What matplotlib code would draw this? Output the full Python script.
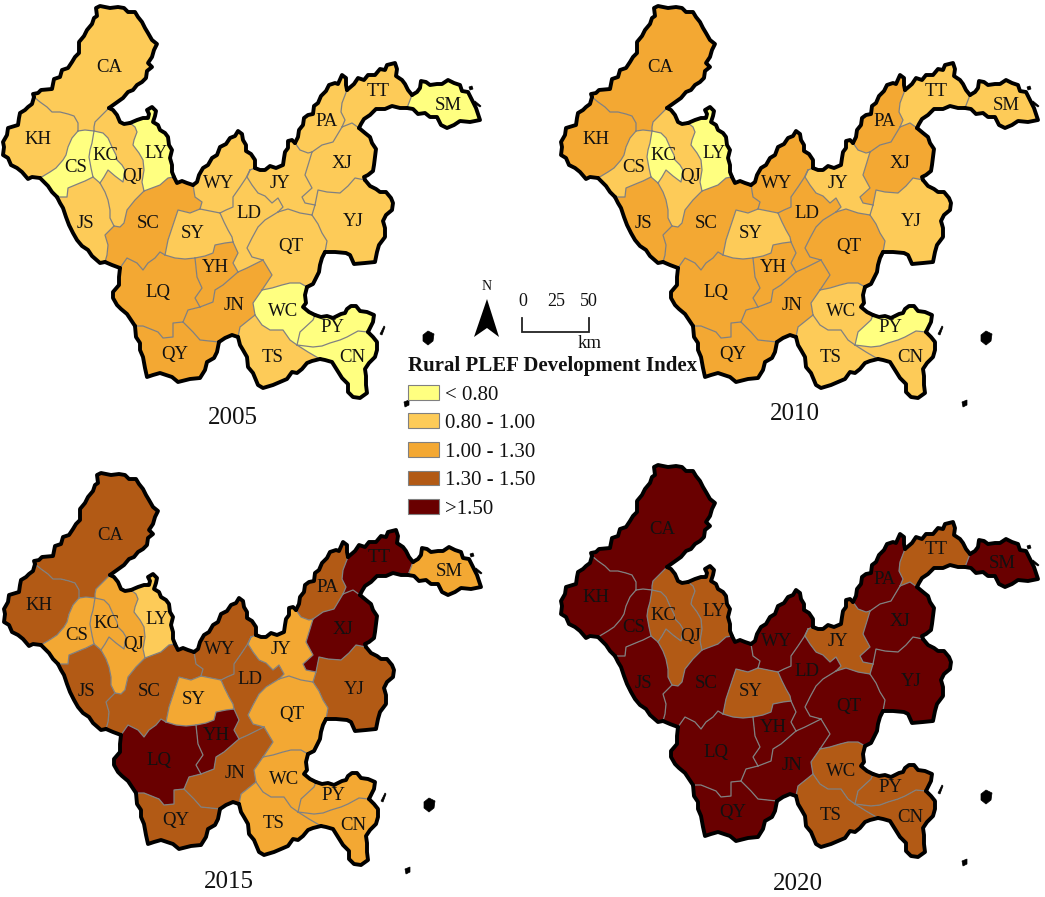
import matplotlib
matplotlib.use("Agg")
import matplotlib.pyplot as plt
from matplotlib.colors import BoundaryNorm, ListedColormap
from matplotlib.patches import Patch, Polygon

plt.rcParams['font.family'] = ['Liberation Serif', 'DejaVu Serif']

# ---- data ----------------------------------------------------------------
regions = ['CA','KH','CS','KC','QJ','LY','JS','SC','WY','SY','LD','JY','PA',
           'TT','SM','XJ','YJ','QT','YH','LQ','JN','QY','WC','PY','TS','CN']
index_2005 = [.9,.9,.7,.7,.9,.7,.9,1.15,.9,.9,.9,.9,.9,.9,.7,.9,.9,.9,1.15,1.15,1.15,1.15,.7,.7,.9,.7]
index_2010 = [1.15,1.15,.9,.7,.9,.7,1.15,1.15,1.15,.9,1.15,.9,1.15,.9,.9,1.15,.9,1.15,1.15,1.15,1.15,1.15,.9,.7,.9,.9]
index_2015 = [1.4,1.4,1.15,1.15,1.15,.9,1.4,1.4,1.4,1.15,1.4,1.15,1.4,1.6,1.15,1.6,1.4,1.15,1.6,1.6,1.4,1.4,1.15,1.15,1.15,1.15]
index_2020 = [1.6,1.6,1.6,1.4,1.4,1.4,1.6,1.6,1.6,1.4,1.6,1.4,1.6,1.4,1.6,1.6,1.6,1.6,1.6,1.6,1.6,1.6,1.4,1.4,1.4,1.4]
years = ['2005','2010','2015','2020']
class_edges = [0, .8, 1.0, 1.3, 1.5, 3]
class_labels = ['< 0.80','0.80 - 1.00','1.00 - 1.30','1.30 - 1.50','>1.50']
class_colors = ['#FFFF80','#FDCB58','#F3A833','#B25A15','#690000']

# boundary junctions
A=(34,97);B=(109,108);C=(130,123);D=(174,177);E=(193,185);F=(255,168);F2=(250,170)
G=(295,143);H=(347,90);I=(412,95);J=(407,108);K=(359,128);L=(365,180);M=(325,252)
N=(307,287);O=(315,315);P=(368,332);Q=(320,359);R=(238,337);S=(219,342);T=(135,326)
U=(120,268);V=(105,262);W=(57,197);X=(40,178);Y=(78,131);Z=(94,131);a=(93,177)
b=(100,183);c=(114,226);d=(144,191);e=(200,209);f=(220,213);g=(165,255);h=(195,258)
i_=(233,242);j=(238,272);k=(263,260);l=(278,212);m=(312,215);n=(315,205);o=(312,152)
p=(342,127);q=(262,290);r=(255,315);s=(297,345);t=(200,307);u=(183,322)

# county boundary arcs: (county, neighbour or None for the outer border, vertices)
arcs = [
 ('CA',None,[A,(33,94),(38,93),(41,90),(52,89),(54,79),(60,77),(62,70),(68,68),(72,62),(75,57),(79,53),(79,42),(84,36),(87,30),(92,24),(94,18),(97,16),(96,8),(100,6),(110,8),(118,7),(124,8),(128,12),(135,12),(138,17),(142,22),(145,28),(148,33),(152,40),(157,44),(154,50),(152,57),(148,63),(152,67),(147,71),(146,78),(142,82),(137,85),(133,90),(128,92),(123,98),(116,103),B]),
 ('QJ',None,[B,(113,110),(117,115),(120,122),(124,124),C]),
 ('LY',None,[C,(137,120),(143,118),(148,118),(149,114),(147,110),(152,107),(156,111),(155,116),(153,122),(158,125),(160,130),(165,133),(168,137),(169,145),(172,150),(170,158),(172,165),(172,172),D]),
 ('SC',None,[D,(177,183),(182,181),(187,183),E]),
 ('WY',None,[E,(197,182),(199,175),(203,168),(208,165),(212,158),(217,155),(220,147),(226,144),(230,138),(235,136),(238,131),(242,134),(243,140),(246,145),(246,151),(251,154),(255,160),F]),
 ('JY',None,[F,(260,170),(265,170),(270,166),(276,168),(283,165),(284,158),(285,152),(288,148),(288,141),(292,140),G]),
 ('PA',None,[G,(298,137),(299,130),(303,125),(304,118),(308,115),(313,114),(314,106),(318,103),(321,96),(326,91),(329,85),(335,83),(338,84),(342,75),(346,78),(346,85),H]),
 ('TT',None,[H,(354,84),(358,78),(364,80),(368,75),(375,75),(380,69),(385,70),(387,65),(395,63),(397,69),(396,76),(402,80),(405,84),(408,90),I]),
 ('SM',None,[I,(417,92),(420,88),(421,81),(426,82),(430,85),(437,84),(442,84),(448,80),(454,83),(460,85),(462,91),(468,92),(472,100),(476,108),(480,120),(470,122),(460,121),(454,125),(447,128),(441,125),(437,117),(430,117),(425,113),(418,114),(413,109),J]),
 ('TT',None,[J,(400,108),(392,106),(385,109),(376,109),(370,115),(364,119),(361,124),K]),
 ('XJ',None,[K,(365,133),(370,137),(372,143),(376,149),(375,157),(374,165),(373,171),(368,175),(364,177),L]),
 ('YJ',None,[L,(370,186),(376,189),(380,192),(386,192),(391,198),(393,203),(392,210),(386,215),(383,221),(385,228),(385,237),(379,245),(377,252),(375,262),(365,263),(354,264),(350,255),(346,253),(335,252),M]),
 ('QT',None,[M,(322,258),(320,265),(319,272),(316,278),(313,284),N]),
 ('WC',None,[N,(305,295),(306,303),(303,307),(309,312),O]),
 ('PY',None,[O,(321,317),(327,316),(333,318),(341,314),(345,313),(347,309),(351,306),(356,306),(360,311),(367,312),(374,315),(373,322),(370,328),P]),
 ('CN',None,[P,(373,337),(377,342),(377,350),(375,357),(369,363),(365,369),(366,376),(366,385),(367,393),(360,398),(353,397),(348,392),(348,384),(342,378),(337,370),(332,362),(325,360),Q]),
 ('TS',None,[Q,(312,361),(307,363),(302,369),(297,373),(292,372),(287,379),(280,382),(273,385),(263,388),(258,385),(253,373),(248,367),(247,357),(243,350),(240,345),R]),
 ('JN',None,[R,(232,335),(225,338),S]),
 ('QY',None,[S,(217,352),(214,358),(207,362),(205,370),(200,378),(190,379),(178,382),(172,377),(160,373),(153,375),(147,377),(145,368),(143,357),(140,350),(140,343),(136,337),T]),
 ('LQ',None,[T,(131,320),(127,314),(121,309),(117,305),(113,298),(113,292),(119,285),(119,277),U]),
 ('SC',None,[U,(112,265),V]),
 ('JS',None,[V,(100,263),(92,256),(88,250),(82,246),(77,240),(73,233),(69,225),(66,217),(63,208),(60,203),W]),
 ('CS',None,[W,(52,192),(48,186),X]),
 ('KH',None,[X,(32,177),(28,179),(22,172),(17,168),(11,165),(8,158),(3,155),(4,147),(3,142),(7,135),(8,128),(18,125),(19,118),(20,113),(25,110),(28,107),(32,104),A]),
 ('CA','KH',[A,(40,102),(47,107),(52,112),(60,112),(68,114),(74,116),(78,123),Y]),
 ('CA','QJ',[B,(102,115),(95,122),(94,127),Z]),
 ('CA','CS',[Y,(85,130),Z]),
 ('KH','CS',[Y,(72,138),(68,147),(66,155),(63,160),(56,168),(50,172),X]),
 ('CS','KC',[Z,(92,143),(90,150),(89,157),(91,168),a]),
 ('CS','JS',[a,(85,181),(80,183),(68,188),(67,197),W]),
 ('KC','QJ',[Z,(103,133),(108,138),(112,147),(116,155),(117,160),(122,165),(125,170),(123,182),(115,176),(108,170),(104,177),b]),
 ('KC','JS',[a,b]),
 ('JS','QJ',[b,(105,192),(108,200),(110,210),(110,218),c]),
 ('JS','SC',[c,(105,235),(108,245),(107,255),V]),
 ('QJ','LY',[C,(135,127),(137,132),(134,140),(133,145),(139,153),(143,160),(144,170),(142,182),d]),
 ('QJ','SC',[d,(135,200),(127,210),(124,223),(120,227),c]),
 ('LY','SC',[d,(160,185),(168,178),D]),
 ('SC','WY',[E,(195,197),(202,202),e]),
 ('SC','SY',[e,(190,213),(178,210),(174,222),(170,234),(168,240),g]),
 ('SC','LQ',[g,(160,252),(155,258),(148,263),(143,270),(137,263),(127,258),U]),
 ('WY','JY',[F,F2]),
 ('WY','LD',[F2,(246,178),(240,187),(233,197),(233,207),(226,210),f]),
 ('WY','SY',[f,(210,211),e]),
 ('SY','LD',[f,(224,222),(228,230),(232,237),i_]),
 ('SY','YH',[i_,(225,243),(215,245),(213,253),(205,256),h]),
 ('SY','LQ',[g,(175,258),(185,259),h]),
 ('YH','LD',[i_,(238,253),(233,263),j]),
 ('YH','LQ',[h,(197,277),(202,288),(195,298),t]),
 ('YH','JN',[t,(213,302),(215,290),(223,285),j]),
 ('LD','JN',[j,(247,268),k]),
 ('LD','QT',[k,(252,257),(247,248),(252,238),(258,227),(265,220),l]),
 ('LD','JY',[F2,(247,177),(252,185),(258,193),(265,196),(272,203),(278,198),(283,207),l]),
 ('JY','QT',[l,(288,209),(300,213),m]),
 ('JY','YJ',[m,n]),
 ('JY','XJ',[o,(309,162),(305,175),(312,188),(302,197),(305,203),n]),
 ('XJ','YJ',[n,(318,190),(327,192),(340,193),(348,186),(355,178),L]),
 ('PA','JY',[G,(300,150),(308,153),o]),
 ('PA','XJ',[o,(322,145),(333,142),p]),
 ('PA','TT',[H,(342,103),(341,112),(345,120),p]),
 ('TT','XJ',[p,(352,123),K]),
 ('TT','SM',[I,J]),
 ('QT','YJ',[m,(318,224),(322,233),(327,241),M]),
 ('QT','JN',[k,(272,275),q]),
 ('QT','WC',[q,(272,288),(282,285),(290,283),(300,283),N]),
 ('JN','WC',[q,(253,303),r]),
 ('JN','TS',[r,(240,327),R]),
 ('WC','TS',[r,(262,325),(270,330),(283,330),(290,340),s]),
 ('WC','PY',[s,(300,332),(313,320),O]),
 ('PY','CN',[s,(313,347),(322,346),(330,343),(340,340),(347,337),(358,331),P]),
 ('CN','TS',[s,(308,352),Q]),
 ('LQ','JN',[t,(188,310),u]),
 ('LQ','QY',[u,(173,323),(173,337),(163,338),(158,332),(143,326),T]),
 ('JN','QY',[u,(193,332),(200,340),S]),
]
island_points = [[(423,335),(428,331),(434,334),(433,341),(428,345),(423,341)],
                 [(404,402),(409,400),(409,405),(405,407)],
                 [(380,334),(384,326),(385,327),(382,335)],
                 [(469,87),(472,86),(473,89),(470,90)],
                 [(475,101),(481,106),(480,107),(474,103)]]
label_xy = {'CA':(109,68),'KH':(38,139),'CS':(76,168),'KC':(105,156),'QJ':(133,177),'LY':(156,153),
            'JS':(85,224),'SC':(148,224),'WY':(219,183),'SY':(193,233),'LD':(249,213),'JY':(280,183),
            'PA':(327,121),'TT':(378,91),'SM':(448,105),'XJ':(342,163),'YJ':(353,222),'QT':(291,247),
            'YH':(215,268),'LQ':(158,293),'JN':(234,306),'QY':(175,354),'WC':(283,312),'PY':(332,328),
            'TS':(273,357),'CN':(352,358)}

# ---- layout ---------------------------------------------------------------
panel_offsets = [(0,0),(558,0),(1,467),(558,459)]
year_xy = [(233,418),(795,414),(229,882),(798,884)]
label_nudge = {('CA', 1): (-7, 0), ('CA', 3): (-5, 2), ('SM', 3): (-4, 0)}


def region_ring(name):
    pool = [list(pts) for r1, r2, pts in arcs if name in (r1, r2)]
    ring = pool.pop(0)
    while pool:
        for arc in pool:
            if arc[0] == ring[-1]:
                ring += arc[1:]
                break
            if arc[-1] == ring[-1]:
                ring += arc[::-1][1:]
                break
        else:
            raise ValueError(name)
        pool.remove(arc)
    return ring


fig = plt.figure(figsize=(10.45, 8.97), dpi=100)
ax = fig.add_axes([0, 0, 1, 1])
ax.set_xlim(0, 1045)
ax.set_ylim(897, 0)
ax.axis('off')

cmap = ListedColormap(class_colors)
norm = BoundaryNorm(class_edges, cmap.N)
all_index = [index_2005, index_2010, index_2015, index_2020]
rings = {name: region_ring(name) for name in regions}

for pi, (values, (dx, dy), year, (yx, yy)) in enumerate(zip(all_index, panel_offsets, years, year_xy)):
    for name, v in zip(regions, values):
        ring = [(x + dx, y + dy) for x, y in rings[name]]
        ax.add_patch(Polygon(ring, closed=True, facecolor=cmap(norm(v)), edgecolor='none', zorder=1))
    for r1, r2, pts in arcs:
        if r2 is not None:
            ax.plot([x + dx for x, y in pts], [y + dy for x, y in pts], color='#808080', lw=0.9,
                    zorder=2, solid_joinstyle='round')
    for r1, r2, pts in arcs:
        if r2 is None:
            ax.plot([x + dx for x, y in pts], [y + dy for x, y in pts], color='black', lw=2.8,
                    zorder=3, solid_joinstyle='round', solid_capstyle='round')
    for isl in island_points:
        ax.add_patch(Polygon([(x + dx, y + dy) for x, y in isl], closed=True, facecolor='black',
                             edgecolor='black', lw=0.5, zorder=3))
    for name, (x, y) in label_xy.items():
        nx, ny = label_nudge.get((name, pi), (0, 0))
        ax.text(x + dx + nx, y + dy + ny, name, fontsize=13.5, ha='center', va='center',
                color='#111111', zorder=4)
    ax.text(yx, yy, year, fontsize=18, ha='center', va='center', color='#111111')

# north arrow
ax.text(487, 287, 'N', fontsize=10, ha='center', va='center', color='#111111')
ax.add_patch(Polygon([(487, 299), (499, 337), (487, 328), (474, 337)], closed=True,
                     facecolor='black', edgecolor='none'))
# scale bar
ax.plot([522, 522, 589, 589], [318, 332, 332, 318], color='#222222', lw=1.3, solid_joinstyle='miter')
for x, txt in zip([523, 556, 589], ['0', '25', '50']):
    ax.text(x, 302, txt, fontsize=13, ha='center', va='center', color='#111111')
ax.text(590, 343, 'km', fontsize=13.5, ha='center', va='center', color='#111111')

# legend
handles = [Patch(facecolor=col, edgecolor='#808080', lw=0.8) for col in class_colors]
leg = ax.legend(handles, class_labels, title='Rural PLEF Development Index',
                loc='upper left', bbox_to_anchor=(408, 356), bbox_transform=ax.transData,
                frameon=False, prop={'size': 15}, alignment='left',
                title_fontproperties={'size': 15, 'weight': 'bold'},
                handlelength=1.49, handleheight=0.7, labelspacing=0.43,
                handletextpad=0.3, borderpad=0, borderaxespad=0)
for txt in leg.get_texts():
    txt.set_color('#111111')
leg.get_title().set_color('#111111')

fig.savefig('out.png', dpi=100)
